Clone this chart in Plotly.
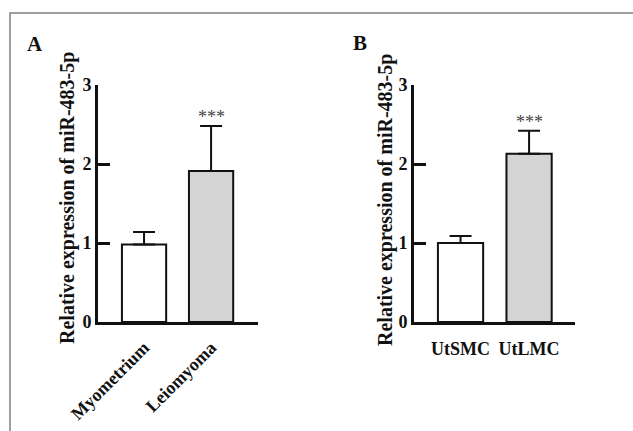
import plotly.graph_objects as go

W, H = 633, 431

# Data
cats_a = ["Myometrium", "Leiomyoma"]
vals_a = [0.98, 1.91]
err_a = [0.16, 0.57]

cats_b = ["UtSMC", "UtLMC"]
vals_b = [1.00, 2.13]
err_b = [0.09, 0.29]

colors = ["white", "#d4d4d4"]
ytick_vals = [0, 1, 2, 3]
ytitle = "Relative expression of miR-483-5p"
sig = "***"

FONT = "Liberation Serif, Times New Roman, serif"

fig = go.Figure()

def add_bars(cats, vals, errs, xa, ya):
    fig.add_trace(go.Bar(
        x=cats, y=vals, xaxis=xa, yaxis=ya,
        width=0.66,
        marker=dict(color=colors, line=dict(color="#111", width=2)),
        error_y=dict(type="data", array=errs, arrayminus=[0, 0], symmetric=False,
                     color="#111", thickness=2, width=11),
        showlegend=False,
    ))

add_bars(cats_a, vals_a, err_a, "x", "y")
add_bars(cats_b, vals_b, err_b, "x2", "y2")

ydom = [1 - 322 / H, 1 - 85 / H]
common_y = dict(range=[0, 3], tickvals=ytick_vals, ticks="inside", ticklen=12, tickwidth=3,
                tickcolor="#111", showline=True, linewidth=3, linecolor="#111",
                showgrid=False, zeroline=False, domain=ydom, automargin=False,
                tickfont=dict(family=FONT, size=18, color="#111", weight="bold"))
common_x = dict(showline=True, linewidth=3, linecolor="#111", ticks="", showgrid=False,
                zeroline=False, automargin=False,
                tickfont=dict(family=FONT, size=18, color="#111", weight="bold"))

fig.update_layout(
    template="none",
    width=W, height=H, margin=dict(l=0, r=0, t=0, b=0, autoexpand=False),
    paper_bgcolor="white", plot_bgcolor="rgba(0,0,0,0)",
    xaxis=dict(common_x, domain=[98 / W, 258 / W], range=[-0.687, 1.70], tickangle=-45,
               anchor="y", ticklabelstandoff=5),
    yaxis=dict(common_y, anchor="x"),
    xaxis2=dict(common_x, domain=[414 / W, 575 / W], range=[-0.679, 1.67], tickangle=0,
                anchor="y2", ticklabelstandoff=8),
    yaxis2=dict(common_y, anchor="x2"),
)

# significance stars
for cats, vals, errs, xr, yr in [(cats_a, vals_a, err_a, "x", "y"), (cats_b, vals_b, err_b, "x2", "y2")]:
    fig.add_annotation(x=cats[1], y=vals[1] + errs[1], xref=xr, yref=yr, text=sig,
                       showarrow=False, yanchor="bottom", yshift=-3,
                       font=dict(family=FONT, size=18, color="#444"))

# y titles
for px, py in [(68, 198), (385, 200)]:
    fig.add_annotation(x=px / W, y=1 - py / H, xref="paper", yref="paper", text=ytitle,
                       textangle=-90, showarrow=False, xanchor="center", yanchor="middle",
                       font=dict(family=FONT, size=20, color="#111", weight="bold"))

# panel letters
for lbl, px, py in [("A", 35, 44), ("B", 360, 43)]:
    fig.add_annotation(x=px / W, y=1 - py / H, xref="paper", yref="paper", text=lbl,
                       showarrow=False, xanchor="center", yanchor="middle",
                       font=dict(family=FONT, size=21, color="#111", weight="bold"))

# frame
fig.add_shape(type="path", xref="paper", yref="paper",
              path=f"M {10/W},0 L {10/W},{1-13/H} L 1,{1-13/H}",
              line=dict(color="#808080", width=1.5))

fig.write_html("out.html", config={"displayModeBar": False},
               post_script="document.body.style.margin='0';document.body.style.overflow='hidden';")
